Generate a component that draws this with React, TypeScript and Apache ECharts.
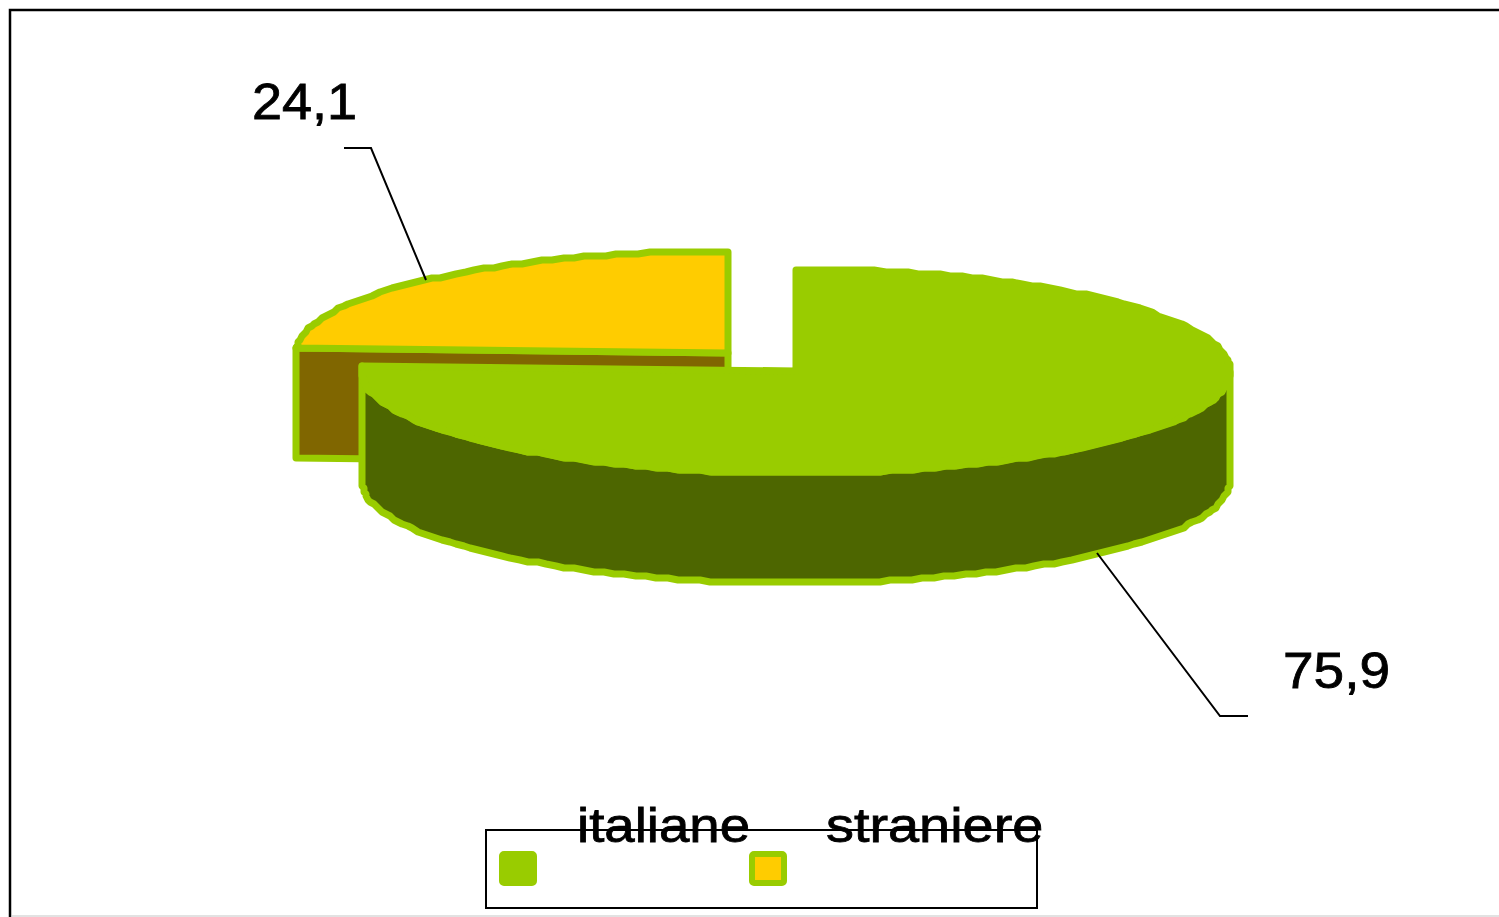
import React, { useEffect, useRef } from "react";
import * as echarts from "echarts";

const categories = ["italiane", "straniere"];
const values = [75.9, 24.1];
const valueLabels = ["75,9", "24,1"];

const GREEN = "#99CC00";
const topColors = ["#99CC00", "#FFCC00"];
const sideColors = ["#4D6600", "#806600"];
const edgeColor = "#99CC00";
const centers = [[796, 371], [728, 353]];
const radii = [[434, 102], [432, 102]];
const DEPTH = 110;
const STEP = 2;
const EDGE_WIDTH = 7;
const FONT = "Liberation Sans";

const leaders = [
  [[1097, 553], [1220, 716], [1248, 716]],
  [[426, 280], [371, 148], [344, 148]],
];
const labelAnchors = [[1283, 645], [252, 77]];
const labelScale = [1.1, 1.08];
const legendSwatches = [[499, 851], [749, 851]];
const legendTexts = [[577, 800, 1.115], [826, 800, 1.14]];

const quant = (v: number) => Math.round(v / STEP) * STEP;
const total = values.reduce((a, b) => a + b, 0);

function arc(i: number, from: number, to: number, dy = 0) {
  const [cx, cy] = centers[i];
  const [rx, ry] = radii[i];
  const pts: number[][] = [];
  const n = Math.max(2, Math.ceil(Math.abs(to - from) / 1.5));
  for (let k = 0; k <= n; k++) {
    const a = ((from + ((to - from) * k) / n) * Math.PI) / 180;
    pts.push([quant(cx + rx * Math.sin(a)), quant(cy - ry * Math.cos(a)) + dy]);
  }
  return pts;
}

function renderSlice(params: any, api: any) {
  const idx = api.value(1);
  const start = (values.slice(0, idx).reduce((a, b) => a + b, 0) / total) * 360;
  const end = start + (api.value(0) / total) * 360;
  const [cx, cy] = centers[idx];
  const stroke = { stroke: edgeColor, lineWidth: EDGE_WIDTH, lineJoin: "round" };
  const children: any[] = [];
  if (idx === 0) {
    const visFrom = Math.max(start, 90);
    const visTo = Math.min(end, 360);
    children.push({
      type: "polygon",
      shape: { points: [...arc(idx, visFrom, visTo), ...arc(idx, visTo, visFrom, DEPTH)] },
      style: { fill: sideColors[idx], ...stroke },
    });
  } else {
    const left = arc(idx, start, start)[0];
    children.push({
      type: "polygon",
      shape: {
        points: [[cx, cy], left, [left[0], left[1] + DEPTH], [cx, cy + DEPTH]],
      },
      style: { fill: sideColors[idx], ...stroke },
    });
  }
  children.push({
    type: "polygon",
    shape: { points: [[cx, cy], ...arc(idx, start, end)] },
    style: { fill: topColors[idx], ...stroke },
  });
  children.push({
    type: "polyline",
    shape: { points: leaders[idx] },
    style: { fill: "none", stroke: "#000", lineWidth: 2 },
  });
  children.push({
    type: "text",
    x: labelAnchors[idx][0],
    y: labelAnchors[idx][1],
    scaleX: labelScale[idx],
    style: {
      text: valueLabels[idx],
      x: 0,
      y: 0,
      fill: "#000",
      stroke: "#000",
      lineWidth: 0.8,
      fontSize: 50,
      fontFamily: FONT,
      textAlign: "left",
    },
  });
  return { type: "group", children };
}

export default function App() {
  const ref = useRef<HTMLDivElement>(null);
  useEffect(() => {
    document.body.style.margin = "0";
    document.body.style.overflow = "hidden";
    const chart = echarts.init(ref.current!, undefined, { renderer: "svg" });
    const legendGraphics: any[] = [
      {
        type: "rect",
        z: 10,
        shape: { x: 486, y: 830, width: 551, height: 78 },
        style: { fill: "#fff", stroke: "#000", lineWidth: 2 },
      },
    ];
    categories.forEach((c, i) => {
      const [x, y] = legendSwatches[i];
      legendGraphics.push({
        type: "rect",
        z: 11,
        shape: { x: x + 3, y: y + 3, width: 32, height: 29, r: 2 },
        style: { fill: topColors[i], stroke: GREEN, lineWidth: 6, lineJoin: "round" },
      });
      legendGraphics.push({
        type: "text",
        z: 12,
        x: legendTexts[i][0],
        y: legendTexts[i][1],
        scaleX: legendTexts[i][2],
        style: {
          text: c,
          x: 0,
          y: 0,
          fill: "#000",
          stroke: "#000",
          lineWidth: 0.8,
          fontSize: 49,
          fontFamily: FONT,
          textAlign: "left",
        },
      });
    });
    chart.setOption({
      animation: false,
      backgroundColor: "#fff",
      graphic: [
        {
          type: "polyline",
          z: 0,
          shape: { points: [[10, 917], [10, 10], [1499, 10]] },
          style: { fill: "none", stroke: "#000", lineWidth: 2.5 },
        },
        {
          type: "line",
          z: 0,
          shape: { x1: 12, y1: 916, x2: 1499, y2: 916 },
          style: { stroke: "#d9d9d9", lineWidth: 1.5 },
        },
        ...legendGraphics,
      ],
      series: [
        {
          type: "custom",
          name: categories[1],
          z: 2,
          coordinateSystem: "none",
          data: [[values[1], 1]],
          renderItem: renderSlice,
          silent: true,
        },
        {
          type: "custom",
          name: categories[0],
          z: 3,
          coordinateSystem: "none",
          data: [[values[0], 0]],
          renderItem: renderSlice,
          silent: true,
        },
      ],
    });
    return () => chart.dispose();
  }, []);
  return <div ref={ref} style={{ width: 1499, height: 917 }} />;
}
